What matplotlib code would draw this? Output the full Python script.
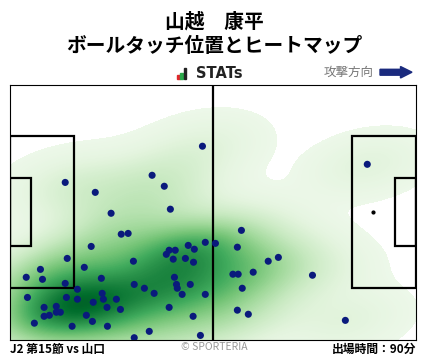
import numpy as np
import matplotlib
matplotlib.use("Agg")
import matplotlib.pyplot as plt
from matplotlib.colors import LinearSegmentedColormap, PowerNorm
from matplotlib.patches import Polygon, Rectangle

plt.rcParams['font.family'] = ['Noto Sans CJK JP', 'DejaVu Sans']

# ball touch positions, percent of pitch (x: own goal -> attack, y: bottom -> top)
touch_x = [47.4, 13.6, 21.0, 35.0, 38.0, 39.5, 24.9, 27.4, 29.1, 20.0,
           48.1, 50.6, 43.9, 45.4, 39.2, 40.7, 38.5, 40.2, 43.2, 45.2,
           30.4, 14.1, 18.3, 7.5, 4.0, 8.0, 22.5, 13.6, 16.6, 30.6,
           33.1, 40.5, 41.0, 41.2, 44.4, 42.4, 35.5, 48.1, 22.7, 4.3,
           13.9, 16.6, 23.0, 26.2, 20.5, 11.4, 8.4, 23.9, 27.2, 39.2,
           11.4, 12.4, 8.4, 9.7, 18.8, 45.1, 20.3, 6.0, 15.3, 24.0,
           34.3, 30.6, 46.9, 88.0, 57.0, 56.0, 63.6, 66.1, 54.9, 56.2,
           59.9, 74.5, 57.2, 56.0, 58.7, 82.6]
touch_y = [75.8, 61.6, 57.7, 64.4, 60.1, 51.1, 49.5, 41.3, 41.6, 36.5,
           38.1, 37.7, 36.9, 35.4, 35.0, 35.0, 33.4, 31.5, 31.8, 30.3,
           30.7, 31.8, 28.3, 27.5, 24.4, 23.6, 24.0, 22.0, 19.7, 21.6,
           20.1, 24.4, 21.6, 20.1, 21.6, 17.7, 18.1, 17.7, 18.1, 16.5,
           16.5, 15.8, 15.8, 15.8, 14.6, 13.0, 12.6, 12.6, 11.8, 12.6,
           10.7, 10.7, 9.1, 9.5, 9.5, 9.1, 7.1, 6.4, 5.2, 5.2,
           3.2, 0.7, 1.6, 68.7, 42.8, 36.2, 30.7, 32.2, 25.6, 25.6,
           26.4, 25.2, 20.1, 11.5, 9.9, 7.5]

player = "山越　康平"
subtitle = "ボールタッチ位置とヒートマップ"
match_label = "J2 第15節 vs 山口"
minutes_label = "出場時間：90分"

L, W = 105.0, 68.0
px = np.array(touch_x) * L / 100
py = np.array(touch_y) * W / 100

W_PX, H_PX = 428, 359
fig = plt.figure(figsize=(W_PX / 100, H_PX / 100), dpi=100)

def fx(x):
    return x / W_PX

def fy(y):
    return 1 - y / H_PX

ax = fig.add_axes([fx(10), fy(339.5), 406 / W_PX, 255 / H_PX])
ax.set_xlim(0, L)
ax.set_ylim(0, W)
ax.set_xticks([])
ax.set_yticks([])
for s in ax.spines.values():
    s.set_linewidth(0.8)
    s.set_color('black')

# gaussian kde, scott bandwidth, low cut-off
data = np.vstack([px, py])
n = data.shape[1]
factor = n ** (-1 / 6)
cov = np.cov(data) * factor ** 2
inv = np.linalg.inv(cov)

def kde(gx, gy):
    pts = np.stack([gx.ravel(), gy.ravel()])
    d = pts[:, :, None] - data[:, None, :]
    q = np.einsum('ipn,ij,jpn->pn', d, inv, d)
    return np.exp(-0.5 * q).sum(axis=1).reshape(gx.shape)

nx, ny = 406, 255
gx = (np.arange(nx) + 0.5) * L / nx
gy = (np.arange(ny) + 0.5) * W / ny
GX, GY = np.meshgrid(gx, gy)
dens = kde(GX, GY)
cut = 0.15
dens = np.ma.masked_less(dens, cut)

greens = plt.get_cmap('Greens')
cmap = LinearSegmentedColormap.from_list('g', greens(np.linspace(0.07, 0.9, 256)))
ax.imshow(dens, origin='lower', extent=[0, L, 0, W], cmap=cmap,
          norm=PowerNorm(0.85, vmin=cut, vmax=dens.max()),
          aspect='auto', interpolation='nearest', zorder=1)

# pitch lines
lw = 1.6
ax.plot([L / 2, L / 2], [0, W], color='black', lw=lw, zorder=2)
for x0, sign in [(0, 1), (L, -1)]:
    ax.add_patch(Rectangle((x0 if sign > 0 else x0 - 16.5, W / 2 - 20.16), 16.5, 40.32,
                           fill=False, lw=lw, ec='black', zorder=2))
    ax.add_patch(Rectangle((x0 if sign > 0 else x0 - 5.5, W / 2 - 9.16), 5.5, 18.32,
                           fill=False, lw=lw, ec='black', zorder=2))
ax.scatter([L - 11], [W / 2], s=4, color='black', zorder=2)

ax.scatter(px, py, s=26, color='#0a1a7c', edgecolors='none', zorder=3)

# header
fig.text(0.5, fy(21.5), player, ha='center', va='center', fontsize=14.2, fontweight='bold')
fig.text(0.5, fy(46), subtitle, ha='center', va='center', fontsize=14.2, fontweight='bold')

# STATs logo
for (x0, x1, y0), c in zip([(176.7, 179.5, 75), (180, 182.8, 73), (183.5, 186.3, 68)],
                           ['#e2262b', '#2aa84a', '#222222']):
    fig.add_artist(Rectangle((fx(x0), fy(79)), fx(x1 - x0), (79 - y0) / H_PX,
                             transform=fig.transFigure, color=c))
fig.text(fx(196), fy(73.5), "STATs", ha='left', va='center', fontsize=10.5,
         fontweight='bold', color='#222222', family='DejaVu Sans')

fig.text(fx(373.5), fy(72), "攻撃方向", ha='right', va='center', fontsize=9, color='#777777')
arrow = [(380, 69.3), (400.5, 69.3), (400.5, 66.5), (412, 72.2), (400.5, 78),
         (400.5, 75.2), (380, 75.2)]
fig.add_artist(Polygon([(fx(a), fy(b)) for a, b in arrow], closed=True,
                       transform=fig.transFigure, color='#1a2a7e'))

# footer
fig.text(fx(10), fy(349.5), match_label, ha='left', va='center', fontsize=8.5, fontweight='bold')
fig.text(0.5, fy(347.5), "© SPORTERIA", ha='center', va='center', fontsize=7.5, color='#999999')
fig.text(fx(416.5), fy(349.5), minutes_label, ha='right', va='center', fontsize=8.5, fontweight='bold')

fig.savefig('out.png', dpi=100)
